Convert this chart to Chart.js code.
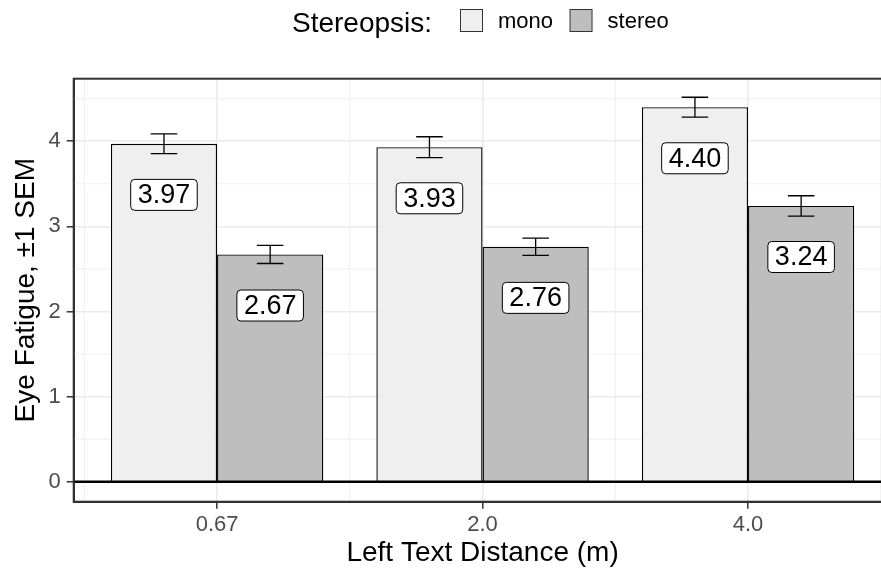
<!DOCTYPE html>
<html lang="en">
<head>
<meta charset="UTF-8">
<title>Eye Fatigue by Left Text Distance</title>
<script src="https://cdn.jsdelivr.net/npm/chart.js"></script>
<style>
    html, body {
        margin: 0;
        padding: 0;
        background: #fff;
        overflow: hidden;
    }
</style>
</head>
<body>
<canvas id="fatigueChart" width="900" height="571"></canvas>

<script>
    // data
    const categories = ['0.67', '2.0', '4.0'];
    const monoMeans = [3.97, 3.93, 4.40];
    const stereoMeans = [2.67, 2.76, 3.24];
    const monoSem = [0.116, 0.123, 0.117];
    const stereoSem = [0.106, 0.102, 0.12];
    const yTicks = [0, 1, 2, 3, 4];
    const yMinor = [0.5, 1.5, 2.5, 3.5, 4.5];
    const xMinor = [0.5, 1.5, 2.5, 3.5];
    const labelDrop = 0.6;   // value labels sit this far under the bar top

    const FONT = "'Liberation Sans', Arial, sans-serif";
    Chart.defaults.font.family = FONT;

    const semBySet = [monoSem, stereoSem];

    const extras = {
        id: 'extras',
        beforeDatasetsDraw(chart) {
            const { ctx, chartArea: a, scales: { x, y } } = chart;
            ctx.save();
            ctx.strokeStyle = '#ebebeb';
            ctx.lineWidth = 0.8;
            xMinor.forEach(v => {
                const px = x.getPixelForValue(v);
                ctx.beginPath();
                ctx.moveTo(px, a.top);
                ctx.lineTo(px, a.bottom);
                ctx.stroke();
            });
            yMinor.forEach(v => {
                const py = y.getPixelForValue(v);
                ctx.beginPath();
                ctx.moveTo(a.left, py);
                ctx.lineTo(a.right, py);
                ctx.stroke();
            });
            ctx.restore();
        },
        afterDatasetsDraw(chart) {
            const { ctx, chartArea: a, scales: { y } } = chart;
            ctx.save();

            // zero line
            const y0 = y.getPixelForValue(0);
            ctx.strokeStyle = '#000';
            ctx.lineWidth = 2.5;
            ctx.beginPath();
            ctx.moveTo(a.left, y0);
            ctx.lineTo(a.right, y0);
            ctx.stroke();

            chart.data.datasets.forEach((ds, d) => {
                const meta = chart.getDatasetMeta(d);
                meta.data.forEach((bar, i) => {
                    const v = ds.data[i].y;
                    const sem = semBySet[d][i];
                    const top = y.getPixelForValue(v + sem);
                    const bot = y.getPixelForValue(v - sem);
                    const half = bar.width * 0.125;

                    // error bar
                    ctx.strokeStyle = '#000';
                    ctx.lineWidth = 1.3;
                    ctx.beginPath();
                    ctx.moveTo(bar.x, top);
                    ctx.lineTo(bar.x, bot);
                    ctx.moveTo(bar.x - half, top);
                    ctx.lineTo(bar.x + half, top);
                    ctx.moveTo(bar.x - half, bot);
                    ctx.lineTo(bar.x + half, bot);
                    ctx.stroke();

                    // value label
                    const txt = v.toFixed(2);
                    ctx.font = '27px ' + FONT;
                    const w = ctx.measureText(txt).width + 14;
                    const h = 31;
                    const cy = y.getPixelForValue(v - labelDrop);
                    ctx.beginPath();
                    ctx.roundRect(bar.x - w / 2, cy - h / 2, w, h, 4);
                    ctx.fillStyle = '#fff';
                    ctx.fill();
                    ctx.lineWidth = 1;
                    ctx.strokeStyle = '#000';
                    ctx.stroke();
                    ctx.fillStyle = '#000';
                    ctx.textAlign = 'center';
                    ctx.textBaseline = 'middle';
                    ctx.fillText(txt, bar.x, cy + 1);
                });
            });
            ctx.restore();
        },
        afterDraw(chart) {
            const { ctx, chartArea: a } = chart;
            ctx.save();

            // panel border
            ctx.strokeStyle = '#333';
            ctx.lineWidth = 2;
            ctx.strokeRect(a.left, a.top, a.right - a.left, a.bottom - a.top);

            // legend
            ctx.fillStyle = '#000';
            ctx.textAlign = 'left';
            ctx.textBaseline = 'alphabetic';
            ctx.font = '28px ' + FONT;
            ctx.fillText('Stereopsis:', 292, 31.5);
            let lx = 460.5;
            ctx.font = '22px ' + FONT;
            chart.data.datasets.forEach(ds => {
                ctx.fillStyle = ds.backgroundColor;
                ctx.fillRect(lx, 9.5, 22, 22);
                ctx.strokeStyle = '#333';
                ctx.lineWidth = 1;
                ctx.strokeRect(lx, 9.5, 22, 22);
                ctx.fillStyle = '#000';
                ctx.fillText(ds.label, lx + 37.5, 27.5);
                lx += 37.5 + ctx.measureText(ds.label).width + 17;
            });
            ctx.restore();
        }
    };

    const ctx = document.getElementById('fatigueChart').getContext('2d');
    new Chart(ctx, {
        type: 'bar',
        data: {
            datasets: [
                {
                    label: 'mono',
                    data: monoMeans.map((v, i) => ({ x: i + 1, y: v })),
                    backgroundColor: '#efefef',
                    borderColor: '#000',
                    borderWidth: 1.4
                },
                {
                    label: 'stereo',
                    data: stereoMeans.map((v, i) => ({ x: i + 1, y: v })),
                    backgroundColor: '#bebebe',
                    borderColor: '#000',
                    borderWidth: 1.4
                }
            ]
        },
        options: {
            responsive: false,
            animation: false,
            layout: { padding: { top: 78.7, right: 8.6, left: 0, bottom: 0 } },
            datasets: { bar: { categoryPercentage: 0.8, barPercentage: 1.0 } },
            plugins: {
                legend: { display: false },
                tooltip: { enabled: false }
            },
            scales: {
                x: {
                    type: 'linear',
                    min: 0.46,
                    max: 3.54,
                    offset: false,
                    afterBuildTicks: s => { s.ticks = categories.map((c, i) => ({ value: i + 1 })); },
                    afterFit: s => { s.height = 69.3; },
                    grid: {
                        offset: false,
                        color: '#ebebeb',
                        lineWidth: 1.6,
                        tickColor: '#333',
                        tickLength: 7,
                        tickWidth: 1.5
                    },
                    border: { color: '#333', width: 2 },
                    ticks: {
                        callback: v => categories[Math.round(v) - 1],
                        color: '#4d4d4d',
                        font: { size: 22 },
                        padding: 3,
                        autoSkip: false,
                        maxRotation: 0
                    },
                    title: {
                        display: true,
                        text: 'Left Text Distance (m)',
                        color: '#000',
                        font: { size: 28 },
                        padding: { top: 0, bottom: 1 }
                    }
                },
                y: {
                    min: -0.235,
                    max: 4.735,
                    afterBuildTicks: s => { s.ticks = yTicks.map(v => ({ value: v })); },
                    afterFit: s => { s.width = 73.7; },
                    grid: {
                        color: '#ebebeb',
                        lineWidth: 1.6,
                        tickColor: '#333',
                        tickLength: 7,
                        tickWidth: 1.5
                    },
                    border: { color: '#333', width: 2 },
                    ticks: {
                        callback: v => String(v),
                        color: '#4d4d4d',
                        font: { size: 22 },
                        padding: 6
                    },
                    title: {
                        display: true,
                        text: 'Eye Fatigue, ±1 SEM',
                        color: '#000',
                        font: { size: 28 },
                        padding: { top: 9.4 }
                    }
                }
            }
        },
        plugins: [extras]
    });
</script>
</body>
</html>
